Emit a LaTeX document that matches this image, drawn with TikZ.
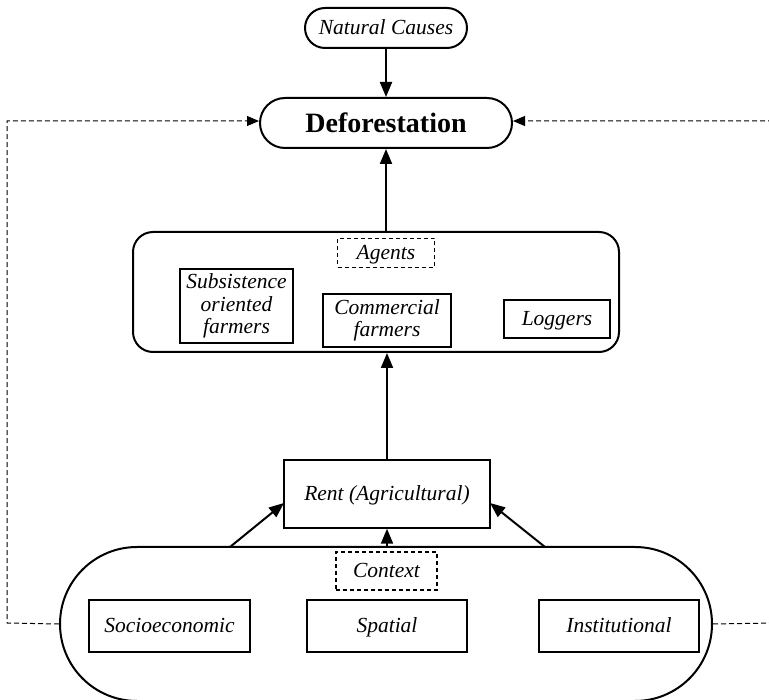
\documentclass[tikz,border=0pt]{standalone}
\usepackage{fontspec}
\setmainfont{Liberation Serif}
\usetikzlibrary{arrows.meta,calc}
\tikzset{
  it/.style={font=\fontsize{21.5}{22.5}\selectfont\itshape, align=center, inner sep=0pt},
  one/.style={text height=17pt, text depth=4pt},
  pill/.style={draw, line width=2pt},
  box/.style={draw, line width=1.4pt, it},
  dbox/.style={draw, line width=1.1pt, dash pattern=on 4pt off 3pt, it, one},
  arr/.style={line width=2pt, -{Triangle[length=15pt,width=12pt]}},
  dline/.style={line width=1pt, dash pattern=on 5pt off 3pt},
}
\begin{document}
\begin{tikzpicture}[x=1pt,y=-1pt]
\useasboundingbox (0,0) rectangle (769,700);
% main shapes
\node[pill, rounded corners=20pt, minimum width=162pt, minimum height=40pt, it, one] (nat) at (386,28) {Natural Causes};
\node[pill, rounded corners=25pt, minimum width=252pt, minimum height=50pt, font=\fontsize{28}{30}\selectfont\bfseries, inner sep=0pt, text height=22pt, text depth=3pt] (defo) at (386,123) {Deforestation};
\node[pill, rounded corners=20pt, minimum width=486pt, minimum height=120pt] (agents) at (376,292) {};
\node[dbox, minimum width=97pt, minimum height=29pt] (aglab) at (386,253) {Agents};
\node[box, minimum width=113pt, minimum height=74pt] (subs) at (236.5,306) {Subsistence\\oriented\\farmers};
\node[box, minimum width=128pt, minimum height=53pt] (comm) at (387,320.5) {Commercial\\farmers};
\node[box, one, minimum width=106pt, minimum height=38pt] (log) at (557,319) {Loggers};
\node[box, one, minimum width=206pt, minimum height=68pt] (rent) at (387,494) {Rent (Agricultural)};
\node[pill, rounded corners=77pt, minimum width=652pt, minimum height=154pt] (ctx) at (386,624) {};
\node[dbox, minimum width=101pt, minimum height=38pt] (ctxlab) at (386.5,571) {Context};
\node[box, one, minimum width=161pt, minimum height=52pt] (socio) at (169.5,626) {Socioeconomic};
\node[box, one, minimum width=160pt, minimum height=52pt] (spat) at (387,626) {Spatial};
\node[box, one, minimum width=160pt, minimum height=52pt] (inst) at (619,626) {Institutional};
% coordinates
\coordinate (lb) at (7,623);
\coordinate (lt) at (7,121);
\coordinate (rb) at (776,623);
\coordinate (rt) at (776,121);
\coordinate (cl) at (230,547);
\coordinate (cr) at (545,547);
\coordinate (rl) at (284,503);
\coordinate (rr) at (490,503);
% connectors
\draw[arr] (nat) -- (defo);
\draw[arr] (agents.north -| defo.south) -- (defo.south);
\draw[arr] (rent.north) -- (rent.north |- agents.south);
\draw[arr] (ctx.north -| rent.south) -- (rent.south);
\draw[arr] (cl) -- (rl);
\draw[arr] (cr) -- (rr);
\draw[dline, -{Triangle[length=12pt,width=10pt]}] (ctx.west) -- (lb) -- (lt) -- (defo.west |- lt);
\draw[dline, -{Triangle[length=12pt,width=10pt]}] (ctx.east) -- (rb) -- (rt) -- (defo.east |- rt);
\end{tikzpicture}
\end{document}
